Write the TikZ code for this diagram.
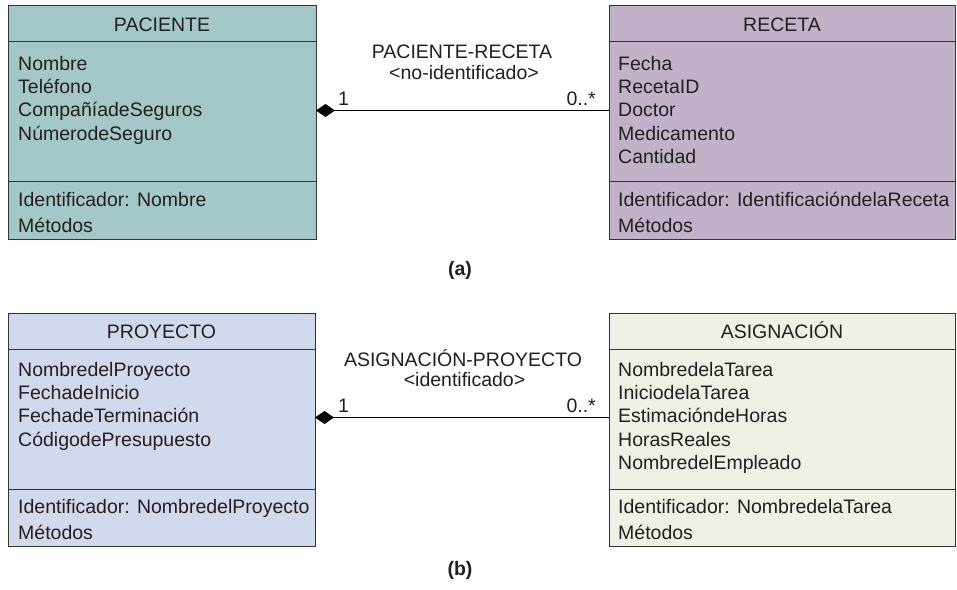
\documentclass[tikz,border=0pt]{standalone}
\usepackage{fontspec}
\setmainfont{Liberation Sans}
\usetikzlibrary{arrows.meta, positioning}

\definecolor{pacfill}{RGB}{164,199,199}
\definecolor{recfill}{RGB}{193,178,201}
\definecolor{proyfill}{RGB}{211,217,236}
\definecolor{asigfill}{RGB}{240,240,230}
\definecolor{txtgray}{RGB}{35,31,32}
\definecolor{linegray}{RGB}{51,51,51}

\begin{document}
\begin{tikzpicture}[x=1pt,y=1pt,yscale=-1,xscale=1,
  txt/.style={anchor=base west,inner sep=0pt,font=\fontsize{19.5}{23.4}\selectfont,text=txtgray},
  hdr/.style={txt,anchor=base},
  clsbox/.style={draw=linegray,line width=1pt,anchor=north west,inner sep=0pt},
  divline/.style={draw=linegray,line width=1pt},
  assoc/.style={draw=black,line width=1pt,{Diamond[length=19pt,width=13pt]}-}]
\useasboundingbox (0,0) rectangle (957,589);

%Shape: Rectangle PACIENTE
\node[clsbox,fill=pacfill,minimum width=308pt,minimum height=234pt] (pac) at (8,5) {};
\draw[divline] (8,41.7) -- (316,41.7);
\draw[divline] (8,181.7) -- (316,181.7);
%Shape: Rectangle RECETA
\node[clsbox,fill=recfill,minimum width=346pt,minimum height=234pt] (rec) at (609,5) {};
\draw[divline] (609,41.7) -- (955,41.7);
\draw[divline] (609,181.7) -- (955,181.7);

% Text Node
\node[hdr] (pac-h) at (162,31.5) {PACIENTE};
\foreach \t [count=\i from 0] in {Nombre,Teléfono,CompañíadeSeguros,NúmerodeSeguro}
  \node[txt] (pac-a\i) at (18,70+23.4*\i) {\t};
\node[txt] (pac-id) at (18,206.5) {Identificador: Nombre};
\node[txt] (pac-m) at (18,232.5) {Métodos};
% Text Node
\node[hdr] (rec-h) at (782,31.5) {RECETA};
\foreach \t [count=\i from 0] in {Fecha,RecetaID,Doctor,Medicamento,Cantidad}
  \node[txt] (rec-a\i) at (618,70+23.4*\i) {\t};
\node[txt] (rec-id) at (618,206.5) {Identificador: IdentificacióndelaReceta};
\node[txt] (rec-m) at (618,232.5) {Métodos};

%Straight Lines PACIENTE-RECETA
\coordinate (pac-r) at (316,110.5);
\coordinate (rec-l) at (609,110.5);
\draw[assoc] (pac-r) -- (rec-l);
\node[hdr] (pr-name) at (462,58) {PACIENTE-RECETA};
\node[hdr] (pr-kind) at (464,79) {<no-identificado>};
\node[txt] (pr-m1) at (338,105) {1};
\node[txt,anchor=base east] (pr-m2) at (596,105) {0..*};
\node[hdr,font=\fontsize{19.5}{23.4}\selectfont\bfseries] (lab-a) at (460,275) {(a)};

%Shape: Rectangle PROYECTO
\node[clsbox,fill=proyfill,minimum width=307pt,minimum height=233pt] (proy) at (8,313) {};
\draw[divline] (8,349) -- (315,349);
\draw[divline] (8,489) -- (315,489);
%Shape: Rectangle ASIGNACION
\node[clsbox,fill=asigfill,minimum width=346pt,minimum height=233pt] (asig) at (609,313) {};
\draw[divline] (609,349) -- (955,349);
\draw[divline] (609,489) -- (955,489);

% Text Node
\node[hdr] (proy-h) at (161.5,338) {PROYECTO};
\foreach \t [count=\i from 0] in {NombredelProyecto,FechadeInicio,FechadeTerminación,CódigodePresupuesto}
  \node[txt] (proy-a\i) at (18,376+23.4*\i) {\t};
\node[txt] (proy-id) at (18,513) {Identificador: NombredelProyecto};
\node[txt] (proy-m) at (18,539) {Métodos};
% Text Node
\node[hdr] (asig-h) at (782,338) {ASIGNACIÓN};
\foreach \t [count=\i from 0] in {NombredelaTarea,IniciodelaTarea,EstimacióndeHoras,HorasReales,NombredelEmpleado}
  \node[txt] (asig-a\i) at (618,376+23.4*\i) {\t};
\node[txt] (asig-id) at (618,513) {Identificador: NombredelaTarea};
\node[txt] (asig-m) at (618,539) {Métodos};

%Straight Lines ASIGNACION-PROYECTO
\coordinate (proy-r) at (315,417.5);
\coordinate (asig-l) at (609,417.5);
\draw[assoc] (proy-r) -- (asig-l);
\node[hdr] (ap-name) at (463,366) {ASIGNACIÓN-PROYECTO};
\node[hdr] (ap-kind) at (464.5,386.5) {<identificado>};
\node[txt] (ap-m1) at (338,412) {1};
\node[txt,anchor=base east] (ap-m2) at (596,412) {0..*};
\node[hdr,font=\fontsize{19.5}{23.4}\selectfont\bfseries] (lab-b) at (460,575) {(b)};
\end{tikzpicture}
\end{document}
